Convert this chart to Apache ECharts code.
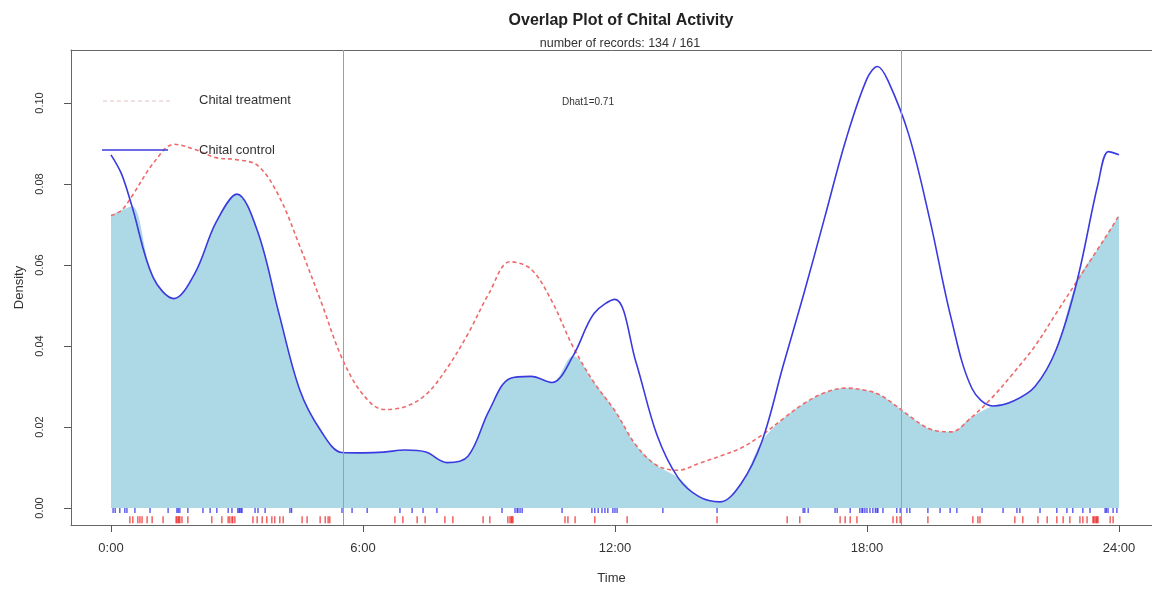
<!DOCTYPE html>
<html>
<head>
<meta charset="utf-8">
<script src="https://cdn.jsdelivr.net/npm/echarts@6/dist/echarts.min.js"></script>
<style>
  html, body { margin: 0; padding: 0; background: #ffffff; }
  #chart { width: 1152px; height: 591px; }
</style>
</head>
<body>
<div id="chart"></div>
<script>
// Kernel density of chital activity by time of day (hours 0-24)
const HOURS = [0, 0.25, 0.5, 1, 1.5, 2, 2.5, 3, 3.5, 4, 4.5, 5, 5.5, 6, 6.5, 7, 7.5, 8, 8.5, 9, 9.5, 10, 10.5, 11, 11.5, 12,
  12.5, 13, 13.5, 14, 14.5, 15, 15.5, 16, 16.5, 17, 17.5, 18, 18.25, 18.5, 19, 19.5, 20, 20.5, 21, 21.5, 22, 22.5, 23, 23.5, 23.75, 24];

const CONTROL_DENSITY = [0.0872, 0.0825, 0.0745, 0.0570, 0.0517, 0.0580, 0.0705, 0.0775, 0.0680, 0.0480, 0.0290, 0.0190,
  0.0137, 0.0136, 0.0138, 0.0143, 0.0138, 0.0112, 0.0128, 0.0240, 0.0320, 0.0325, 0.0310, 0.0375, 0.0480, 0.0515,
  0.0360, 0.0180, 0.0075, 0.0028, 0.0015, 0.0060, 0.0165, 0.0350, 0.0530, 0.0720, 0.0910, 0.1060, 0.1090, 0.1055,
  0.0920, 0.0710, 0.0470, 0.0295, 0.0252, 0.0265, 0.0300, 0.0390, 0.0560, 0.0800, 0.0880, 0.0872];

const TREATMENT_DENSITY = [0.0722, 0.0735, 0.0770, 0.0850, 0.0898, 0.0885, 0.0865, 0.0860, 0.0845, 0.0770, 0.0645, 0.0510,
  0.0370, 0.0280, 0.0243, 0.0250, 0.0280, 0.0345, 0.0430, 0.0530, 0.0608, 0.0590, 0.0510, 0.0398, 0.0310, 0.0240,
  0.0155, 0.0105, 0.0093, 0.0110, 0.0128, 0.0148, 0.0180, 0.0220, 0.0258, 0.0285, 0.0296, 0.0290, 0.0282, 0.0267,
  0.0228, 0.0195, 0.0188, 0.0225, 0.0275, 0.0335, 0.0400, 0.0480, 0.0560, 0.0640, 0.0680, 0.0722];

// Individual record times (hours) shown as rug ticks
const CONTROL_TIMES = [0.05, 0.1, 0.21, 0.33, 0.38, 0.57, 0.93, 1.36, 1.57, 1.6, 1.64, 1.83, 2.19, 2.36, 2.52, 2.79, 2.88,
  3.02, 3.05, 3.07, 3.1, 3.12, 3.43, 3.5, 3.67, 4.26, 4.3, 5.5, 5.74, 6.1, 6.88, 7.17, 7.43, 7.76, 9.31, 9.62, 9.67, 9.69,
  9.74, 9.79, 10.74, 11.45, 11.52, 11.6, 11.69, 11.76, 11.83, 11.95, 12.0, 12.05, 13.14, 14.43, 16.48, 16.52, 16.6, 17.24,
  17.29, 17.6, 17.83, 17.88, 17.9, 17.95, 18.0, 18.07, 18.14, 18.2, 18.24, 18.26, 18.38, 18.71, 18.79, 18.95, 19.02,
  19.45, 19.74, 19.98, 20.14, 20.74, 21.24, 21.57, 21.64, 22.12, 22.52, 22.76, 22.9, 23.14, 23.31, 23.67, 23.7, 23.74,
  23.86, 23.95];

const TREATMENT_TIMES = [0.45, 0.52, 0.64, 0.69, 0.74, 0.86, 0.98, 1.24, 1.55, 1.57, 1.6, 1.62, 1.64, 1.69, 1.83, 2.4,
  2.64, 2.79, 2.83, 2.88, 2.9, 2.95, 3.38, 3.48, 3.6, 3.71, 3.83, 3.9, 4.02, 4.1, 4.55, 4.67, 4.98, 5.1, 5.17, 5.21,
  6.76, 6.95, 7.29, 7.48, 7.95, 8.14, 8.86, 9.02, 9.45, 9.5, 9.53, 9.55, 9.57, 10.81, 10.88, 11.05, 11.52, 12.29,
  14.43, 16.1, 16.4, 17.36, 17.48, 17.6, 17.76, 18.62, 18.71, 18.79, 19.45, 20.52, 20.64, 20.69, 21.52, 21.71, 22.07,
  22.29, 22.52, 22.67, 22.83, 23.07, 23.14, 23.24, 23.38, 23.4, 23.43, 23.46, 23.48, 23.5, 23.79, 23.86];

const X_TICKS = [0, 6, 12, 18, 24];
const X_TICK_LABELS = ['0:00', '6:00', '12:00', '18:00', '24:00'];
const Y_TICKS = [0, 0.02, 0.04, 0.06, 0.08, 0.10];
const SUN_TIMES = [5.52, 18.81];

const TITLE = 'Overlap Plot of Chital Activity';
const SUBTITLE = 'number of records: 134 / 161';
const DHAT = 'Dhat1=0.71';
const NAMES = ['Chital treatment', 'Chital control'];

const FONT = '"Liberation Sans", Arial, Helvetica, sans-serif';
const FRAME = '#666666';

const overlap = HOURS.map((h, i) => [h, Math.min(CONTROL_DENSITY[i], TREATMENT_DENSITY[i])]);
const control = HOURS.map((h, i) => [h, CONTROL_DENSITY[i]]);
const treatment = HOURS.map((h, i) => [h, TREATMENT_DENSITY[i]]);

// plot region runs a little past the right edge of the page, so the x range stops at the page edge
const X_MIN = -0.952, X_MAX = 24.786;

const chart = echarts.init(document.getElementById('chart'), null, { renderer: 'canvas' });

chart.setOption({
  animation: false,
  backgroundColor: '#ffffff',
  title: [
    { text: TITLE, left: 616, top: 8, textAlign: 'center',
      textStyle: { fontFamily: FONT, fontSize: 16, fontWeight: 'bold', color: '#222' } },
    { text: SUBTITLE, left: 615, top: 32, textAlign: 'center',
      textStyle: { fontFamily: FONT, fontSize: 12.5, fontWeight: 'normal', color: '#333' } }
  ],
  grid: { left: 71, top: 50, width: 1081, height: 475, show: false },
  xAxis: [
    {
      type: 'value', min: X_MIN, max: X_MAX,
      name: 'Time', nameLocation: 'middle', nameGap: 47,
      nameTextStyle: { fontFamily: FONT, fontSize: 13, color: '#333' },
      axisLine: { show: true, onZero: false, lineStyle: { color: FRAME, width: 1 } },
      splitLine: { show: false },
      axisTick: { show: true, customValues: X_TICKS, length: 7, lineStyle: { color: '#555' } },
      axisLabel: {
        customValues: X_TICKS, margin: 17, fontFamily: FONT, fontSize: 13, color: '#333',
        formatter: v => X_TICK_LABELS[X_TICKS.indexOf(v)]
      }
    },
    {
      type: 'value', position: 'top', min: X_MIN, max: X_MAX,
      axisLine: { show: true, onZero: false, lineStyle: { color: FRAME, width: 1 } },
      axisTick: { show: false }, axisLabel: { show: false }, splitLine: { show: false }
    }
  ],
  yAxis: {
    type: 'value', min: -0.0042, max: 0.11308,
    name: 'Density', nameLocation: 'middle', nameGap: 44, nameRotate: 90,
    nameTextStyle: { fontFamily: FONT, fontSize: 13, color: '#333' },
    axisLine: { show: true, onZero: false, lineStyle: { color: FRAME, width: 1 } },
    splitLine: { show: false },
    axisTick: { show: true, customValues: Y_TICKS, length: 7, lineStyle: { color: '#555' } },
    axisLabel: {
      customValues: Y_TICKS, rotate: 90, margin: 26, fontFamily: FONT, fontSize: 11, color: '#333',
      formatter: v => v.toFixed(2)
    }
  },
  series: [
    {
      name: 'overlap', type: 'line', data: overlap, smooth: 0.35, showSymbol: false, silent: true, z: 1,
      lineStyle: { width: 0, opacity: 0 },
      areaStyle: { color: '#add8e6', opacity: 1 },
      markLine: {
        silent: true, symbol: 'none', label: { show: false },
        lineStyle: { color: '#a0a0a0', width: 1, type: 'solid' },
        data: SUN_TIMES.map(t => ({ xAxis: t }))
      }
    },
    {
      name: NAMES[0], type: 'line', data: treatment, smooth: 0.35, showSymbol: false, z: 3,
      lineStyle: { color: '#ee6a6a', width: 1.6, type: [4, 3] }
    },
    {
      name: NAMES[1], type: 'line', data: control, smooth: 0.35, showSymbol: false, z: 4,
      lineStyle: { color: '#3a3adf', width: 1.6 }
    },
    {
      name: 'control records', type: 'scatter', data: CONTROL_TIMES.map(t => [t, -0.0006]),
      symbol: 'rect', symbolSize: [1.4, 5], itemStyle: { color: '#2a2aee' }, z: 5, silent: true
    },
    {
      name: 'treatment records', type: 'scatter', data: TREATMENT_TIMES.map(t => [t, -0.0029]),
      symbol: 'rect', symbolSize: [1.4, 7], itemStyle: { color: '#ee2a2a' }, z: 5, silent: true
    }
  ],
  graphic: [
    { type: 'line', shape: { x1: 103, y1: 101, x2: 170, y2: 101 }, silent: true,
      style: { stroke: '#e2c4c4', lineWidth: 1.2, lineDash: [4, 3] } },
    { type: 'text', left: 199, top: 94, silent: true,
      style: { text: NAMES[0], font: '13px ' + FONT, fill: '#333' } },
    { type: 'line', shape: { x1: 102, y1: 150, x2: 168, y2: 150 }, silent: true, z: 10,
      style: { stroke: '#3a3adf', lineWidth: 1.5 } },
    { type: 'text', left: 199, top: 144, silent: true, z: 10,
      style: { text: NAMES[1], font: '13px ' + FONT, fill: '#333' } },
    { type: 'text', left: 562, top: 97, silent: true,
      style: { text: DHAT, font: '10px ' + FONT, fill: '#333' } }
  ]
});
</script>
</body>
</html>
